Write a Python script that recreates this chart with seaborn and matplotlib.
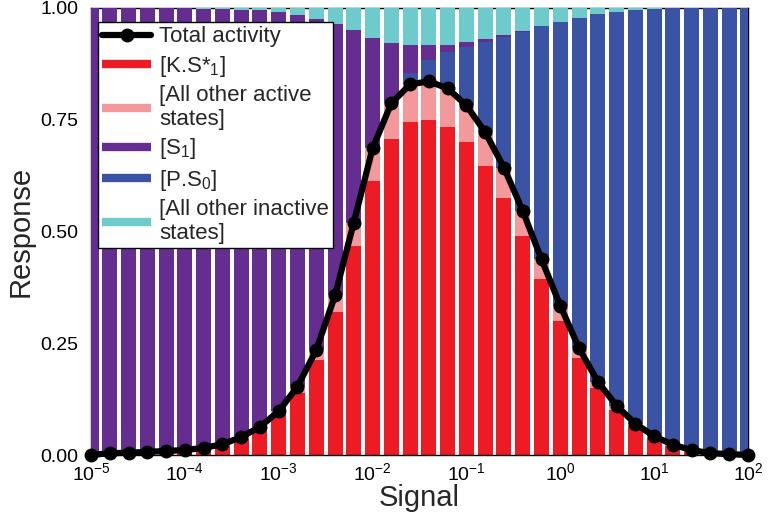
import numpy as np
import matplotlib
matplotlib.use("Agg")
import matplotlib.pyplot as plt
import seaborn as sns
from matplotlib.lines import Line2D

# ---- data ----
signal = np.logspace(-5, 2, 36)  # sampling grid, 5 points per decade

total_activity = [0.000, 0.004, 0.005, 0.007, 0.009, 0.011, 0.016, 0.024, 0.040, 0.063,
                  0.098, 0.153, 0.235, 0.357, 0.520, 0.686, 0.787, 0.829, 0.836, 0.820,
                  0.782, 0.722, 0.643, 0.546, 0.438, 0.334, 0.239, 0.164, 0.110, 0.070,
                  0.042, 0.023, 0.011, 0.004, 0.002, 0.000]
ks_star1 = [0.000, 0.003, 0.004, 0.006, 0.008, 0.010, 0.014, 0.021, 0.036, 0.057,
            0.089, 0.138, 0.213, 0.321, 0.467, 0.613, 0.708, 0.744, 0.750, 0.733,
            0.700, 0.647, 0.576, 0.490, 0.393, 0.299, 0.216, 0.149, 0.100, 0.064,
            0.038, 0.020, 0.009, 0.003, 0.001, 0.000]
other_active = [0.000, 0.001, 0.001, 0.001, 0.001, 0.001, 0.002, 0.003, 0.004, 0.006,
                0.009, 0.015, 0.022, 0.036, 0.053, 0.073, 0.079, 0.085, 0.086, 0.087,
                0.082, 0.075, 0.067, 0.056, 0.045, 0.035, 0.023, 0.015, 0.010, 0.006,
                0.004, 0.003, 0.002, 0.001, 0.001, 0.000]
ps0 = [0.000, 0.000, 0.000, 0.000, 0.000, 0.000, 0.000, 0.000, 0.000, 0.000,
       0.000, 0.000, 0.000, 0.000, 0.001, 0.002, 0.006, 0.025, 0.047, 0.081,
       0.131, 0.203, 0.292, 0.400, 0.521, 0.635, 0.739, 0.823, 0.881, 0.926,
       0.955, 0.976, 0.989, 0.996, 0.998, 1.000]
s1 = [1.000, 0.996, 0.995, 0.993, 0.990, 0.988, 0.982, 0.973, 0.956, 0.932,
      0.893, 0.832, 0.740, 0.607, 0.429, 0.246, 0.129, 0.064, 0.034, 0.017,
      0.010, 0.005, 0.004, 0.002, 0.001, 0.000, 0.000, 0.000, 0.000, 0.000,
      0.000, 0.000, 0.000, 0.000, 0.000, 0.000]
other_inactive = [0.000, 0.000, 0.000, 0.000, 0.001, 0.001, 0.002, 0.003, 0.004, 0.005,
                  0.009, 0.015, 0.025, 0.036, 0.050, 0.066, 0.078, 0.082, 0.083, 0.082,
                  0.077, 0.070, 0.061, 0.052, 0.040, 0.031, 0.022, 0.013, 0.009, 0.004,
                  0.003, 0.001, 0.000, 0.000, 0.000, 0.000]

labels = ["Total activity", "[K.S*$\\mathregular{_1}$]", "[All other active\nstates]",
          "[S$\\mathregular{_1}$]", "[P.S$\\mathregular{_0}$]", "[All other inactive\nstates]"]

c_red = "#ED1C24"
c_pink = "#F4999B"
c_purple = "#662D91"
c_blue = "#3A53A4"
c_cyan = "#6ECBCB"

# ---- style ----
sns.set_style("white")
plt.rcParams["font.family"] = ["Liberation Sans", "DejaVu Sans"]
plt.rcParams["mathtext.fontset"] = "custom"
plt.rcParams["mathtext.rm"] = "Liberation Sans"
plt.rcParams["mathtext.it"] = "Liberation Sans:italic"
plt.rcParams["mathtext.bf"] = "Liberation Sans:bold"

fig = plt.figure(figsize=(7.75, 5.22), dpi=100)
ax = fig.add_axes([91 / 775, 1 - 455 / 522, 657 / 775, 447 / 522])

# stacked bars: bottom-up red, pink, blue, purple, cyan
stack_layers = [ks_star1, other_active, ps0, s1, other_inactive]
stack_colors = [c_red, c_pink, c_blue, c_purple, c_cyan]
cum = np.cumsum(np.array(stack_layers), axis=0)
for i in reversed(range(len(stack_layers))):
    sns.barplot(x=signal, y=cum[i], native_scale=True, log_scale=(True, False),
                color=stack_colors[i], saturation=1, width=0.8, errorbar=None,
                ax=ax, zorder=3, linewidth=0, edgecolor="none")

sns.lineplot(x=signal, y=total_activity, color="black", lw=4.5, marker="o",
             markersize=10, markeredgewidth=0, ax=ax, zorder=6, clip_on=False)

ax.set_xscale("log")
ax.set_xlim(1e-5, 1e2)
ax.set_ylim(0, 1)
ax.set_yticks([0, 0.25, 0.5, 0.75, 1.0])
ax.set_yticklabels(["0.00", "0.25", "0.50", "0.75", "1.00"])
ax.set_xticks([1e-5, 1e-4, 1e-3, 1e-2, 1e-1, 1e0, 1e1, 1e2])
ax.set_xticklabels(["$\\mathregular{10^{-5}}$", "$\\mathregular{10^{-4}}$",
                    "$\\mathregular{10^{-3}}$", "$\\mathregular{10^{-2}}$",
                    "$\\mathregular{10^{-1}}$", "$\\mathregular{10^{0}}$",
                    "$\\mathregular{10^{1}}$", "$\\mathregular{10^{2}}$"])
ax.minorticks_off()
ax.tick_params(axis="both", length=0, labelsize=14, colors="black")
ax.tick_params(axis="x", pad=5)
ax.tick_params(axis="y", pad=9)

for s in ax.spines.values():
    s.set_visible(True)
    s.set_color("black")
    s.set_linewidth(1)
ax.spines["bottom"].set_zorder(4)

ax.set_xlabel("Signal", fontsize=21, labelpad=0)
ax.set_ylabel("Response", fontsize=21, labelpad=4)

handles = [Line2D([], [], color="black", lw=4.5, marker="o", markersize=10, markeredgewidth=0),
           Line2D([], [], color=c_red, lw=6, solid_capstyle="butt"),
           Line2D([], [], color=c_pink, lw=6, solid_capstyle="butt"),
           Line2D([], [], color=c_purple, lw=6, solid_capstyle="butt"),
           Line2D([], [], color=c_blue, lw=6, solid_capstyle="butt"),
           Line2D([], [], color=c_cyan, lw=6, solid_capstyle="butt")]
leg = ax.legend(handles, labels, loc="upper left",
                bbox_to_anchor=(7 / 657, 1 - 14 / 447), borderaxespad=0,
                fontsize=16, frameon=True, fancybox=False, framealpha=1,
                edgecolor="black", handlelength=2.2, handletextpad=0.35,
                borderpad=0.2, labelspacing=0.28)
leg.get_frame().set_linewidth(1)
leg.set_zorder(10)

fig.savefig("out.png", dpi=100, facecolor="white")
